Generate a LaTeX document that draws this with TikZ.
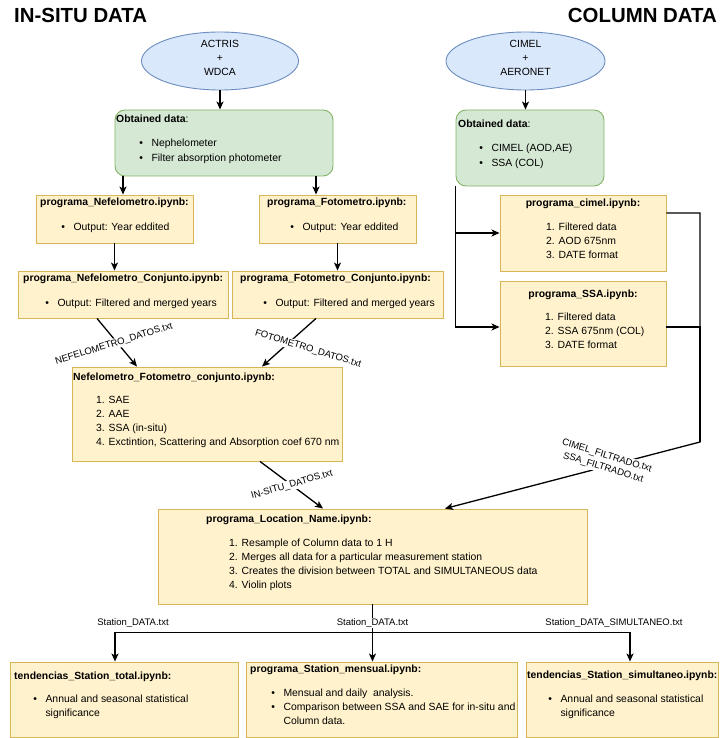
\documentclass[tikz,border=0pt]{standalone}
\usepackage{fontspec}
\setmainfont{Liberation Sans}
\usepackage{xcolor}
\usepackage{tikz}
\usetikzlibrary{shapes.geometric,arrows.meta}
\definecolor{ylwfill}{HTML}{FFF2CC}
\definecolor{ylwline}{HTML}{D6B656}
\definecolor{grnfill}{HTML}{D5E8D4}
\definecolor{grnline}{HTML}{82B366}
\definecolor{blufill}{HTML}{DAE8FC}
\definecolor{bluline}{HTML}{6C8EBF}
\def\prog#1{\textbf{#1}}
\newcommand{\bitem}[1]{\textbullet\hspace{8.5pt}#1}
\newcommand{\bwrap}[1]{\hspace*{12.1pt}#1}

\begin{document}
\begin{tikzpicture}[x=1pt,y=-1pt,font=\fontsize{10.4}{14}\selectfont]
    \tikzstyle{ybox}=[draw=ylwline,fill=ylwfill,line width=0.9pt,inner sep=0]
    \tikzstyle{gbox}=[draw=grnline,fill=grnfill,line width=0.9pt,rounded corners=10pt,inner sep=0]
    \tikzstyle{source}=[ellipse,draw=bluline,fill=blufill,line width=0.9pt,inner sep=0]
    \tikzstyle{txt}=[anchor=north west,inner sep=0,align=left]
    \tikzstyle{lbl}=[font=\fontsize{9.5}{12.5}\selectfont,fill=white,inner sep=1pt]
    \tikzstyle{link}=[line width=1.3pt,-{Stealth[length=8pt,width=7pt,inset=2pt]}]
    \useasboundingbox (0,0) rectangle (726,738);
    \node[anchor=west,inner sep=0,font=\fontsize{20.4}{24}\selectfont\bfseries] (tinsitu) at (14,15) {IN-SITU DATA};
    \node[anchor=east,inner sep=0,font=\fontsize{20.4}{24}\selectfont\bfseries] (tcolumn) at (717,15) {COLUMN DATA};
    % sources
    \node[source,minimum width=157,minimum height=58] (actris) at (220,61) {};
    \node[align=center,inner sep=0] (actris-t) at (220,57.5) {ACTRIS\\+\\WDCA};
    \node[source,minimum width=159,minimum height=58] (aeronet) at (525.5,61) {};
    \node[align=center,inner sep=0] (aeronet-t) at (525.5,57.5) {CIMEL\\+\\AERONET};
    \node[gbox,minimum width=218,minimum height=66] (g1) at (224,143) {};
    \node[txt] (g1-t) at (116,114.3) {\prog{Obtained data}:};
    \node[txt] (g1-l) at (139.2,138.3) {\bitem{Nephelometer}\\[1pt]\bitem{Filter absorption photometer}};
    \node[gbox,minimum width=148,minimum height=76] (g2) at (530,148) {};
    \node[txt] (g2-t) at (458,119.3) {\prog{Obtained data}:};
    \node[txt] (g2-l) at (479.2,143.3) {\bitem{CIMEL (AOD,AE)}\\[1pt]\bitem{SSA (COL)}};
    % in-situ programs
    \node[ybox,minimum width=157,minimum height=48] (nef) at (114.5,219) {};
    \node[txt] (nef-t) at (40,197.3) {\prog{programa\_Nefelometro.ipynb:}};
    \node[txt] (nef-l) at (61.2,222.3) {\bitem{Output: Year eddited}};
    \node[ybox,minimum width=157,minimum height=48] (foto) at (337.5,219) {};
    \node[txt] (foto-t) at (267,197.3) {\prog{programa\_Fotometro.ipynb:}};
    \node[txt] (foto-l) at (290.2,222.3) {\bitem{Output: Year eddited}};
    \node[ybox,minimum width=210,minimum height=47] (nc) at (123,294.5) {};
    \node[txt] (nc-t) at (23,273.3) {\prog{programa\_Nefelometro\_Conjunto.ipynb:}};
    \node[txt] (nc-l) at (45.2,298.3) {\bitem{Output: Filtered and merged years}};
    \node[ybox,minimum width=211,minimum height=47] (fc) at (337.5,294.5) {};
    \node[txt] (fc-t) at (240,273.3) {\prog{programa\_Fotometro\_Conjunto.ipynb:}};
    \node[txt] (fc-l) at (263.2,298.3) {\bitem{Output: Filtered and merged years}};
    \node[ybox,minimum width=270,minimum height=94] (comb) at (207,414) {};
    \node[txt] (comb-t) at (73,372.3) {\prog{Nefelometro\_Fotometro\_conjunto.ipynb:}};
    \node[txt] (comb-l) at (96,396.3) {1. SAE\\2. AAE\\3. SSA (in-situ)\\4. Exctintion, Scattering and Absorption coef 670 nm};
    % column programs
    \node[ybox,minimum width=166,minimum height=76] (cim) at (583,233) {};
    \node[anchor=north,inner sep=0] (cim-t) at (583,198.3) {\prog{programa\_cimel.ipynb:}};
    \node[txt] (cim-l) at (546,222.3) {1. Filtered data\\2. AOD 675nm\\3. DATE format};
    \node[ybox,minimum width=166,minimum height=85] (ssa) at (583,323.5) {};
    \node[anchor=north,inner sep=0] (ssa-t) at (583,289.3) {\prog{programa\_SSA.ipynb:}};
    \node[txt] (ssa-l) at (545,312.3) {1. Filtered data\\2. SSA 675nm (COL)\\3. DATE format};
    % station programs
    \node[ybox,minimum width=429,minimum height=95] (loc) at (372.5,556.5) {};
    \node[txt] (loc-t) at (206,514.3) {\prog{programa\_Location\_Name.ipynb:}};
    \node[txt] (loc-l) at (229,538.3) {1. Resample of Column data to 1 H\\2. Merges all data for a particular measurement station\\3. Creates the division between TOTAL and SIMULTANEOUS data\\4. Violin plots};
    \node[ybox,minimum width=228,minimum height=75] (tot) at (124,699.5) {};
    \node[txt] (tot-t) at (14,671.3) {\prog{tendencias\_Station\_total.ipynb:}};
    \node[txt] (tot-l) at (33.2,694.3) {\bitem{Annual and seasonal statistical}\\\bwrap{significance}};
    \node[ybox,minimum width=271,minimum height=75] (mens) at (381.5,699.5) {};
    \node[txt] (mens-t) at (250,664.3) {\prog{programa\_Station\_mensual.ipynb:}};
    \node[txt] (mens-l) at (271.2,688.3) {\bitem{Mensual and daily\ \ analysis.}\\\bitem{Comparison between SSA and SAE for in-situ and}\\\bwrap{Column data.}};
    \node[ybox,minimum width=192,minimum height=75] (sim) at (622,699.5) {};
    \node[txt] (sim-t) at (527,670.3) {\prog{tendencias\_Station\_simultaneo.ipynb:}};
    \node[txt] (sim-l) at (548.2,694.3) {\bitem{Annual and seasonal statistical}\\\bwrap{significance}};
    % connectors
    \draw[link] (actris.south) -- (actris.south |- g1.north);
    \draw[link] (aeronet.south) -- (aeronet.south |- g2.north);
    \draw[link] ([xshift=8.5]nef.north |- g1.south) -- ([xshift=8.5]nef.north);
    \draw[link] ([xshift=-21.5]foto.north |- g1.south) -- ([xshift=-21.5]foto.north);
    \draw[link] (nef.south) -- (nef.south |- nc.north);
    \draw[link] (foto.south) -- (fc.north);
    \draw[link] ([xshift=-26]nc.south) -- ([xshift=-70]comb.north);
    \draw[link] ([xshift=-21.5]fc.south) -- ([xshift=55]comb.north);
    \draw[link] ([xshift=53]comb.south) -- ([xshift=-49.5]loc.north);
    \draw[link] (g2.south west) |- (cim.west);
    \draw[link] (g2.south west) |- ([yshift=-3.5]ssa.west);
    \coordinate (bend) at (700,442);
    \draw[link] ([yshift=20]cim.east) -| (bend) -- ([xshift=72.5]loc.north);
    \draw[line width=1.3pt] ([yshift=-3.5]ssa.east) -| (bend);
    \coordinate (junc) at ([yshift=-28]loc.south);
    \draw[link] (loc.south) -- (loc.south |- mens.north);
    \draw[link] (junc) -| ([xshift=-9]tot.north);
    \draw[link] (junc) -| ([xshift=8]sim.north);
    % file labels
    \node[lbl,rotate=17] (nefdat) at (114,344) {NEFELOMETRO\_DATOS.txt};
    \node[lbl,rotate=-17] (fotdat) at (308,349) {FOTOMETRO\_DATOS.txt};
    \node[lbl,rotate=16] (insitu) at (292,485) {IN-SITU\_DATOS.txt};
    \node[lbl,rotate=-17,align=center] (colfil) at (605,462) {CIMEL\_FILTRADO.txt\\SSA\_FILTRADO.txt};
    \node[lbl] (stot) at (133,623) {Station\_DATA.txt};
    \node[lbl] (smen) at (372.5,623) {Station\_DATA.txt};
    \node[lbl] (ssim) at (614,623) {Station\_DATA\_SIMULTANEO.txt};
\end{tikzpicture}
\end{document}
